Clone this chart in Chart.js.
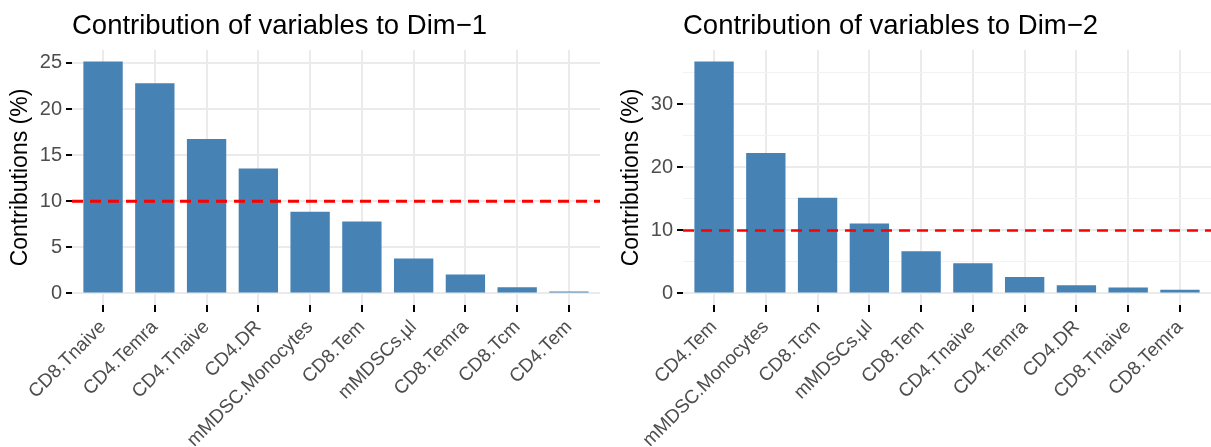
<!DOCTYPE html>
<html>
<head>
<meta charset="utf-8">
<script src="https://cdn.jsdelivr.net/npm/chart.js@4.4.0/dist/chart.umd.min.js"></script>
<style>
  html, body { margin: 0; padding: 0; background: #fff; }
  .panel { position: absolute; top: 0; height: 447px; }
</style>
</head>
<body>
<div class="panel" style="left:0;width:600px"><canvas id="dim1" width="600" height="447"></canvas></div>
<div class="panel" style="left:600px;width:611px"><canvas id="dim2" width="611" height="447"></canvas></div>
<script>
// values
var dim1Labels = ["CD8.Tnaive", "CD4.Temra", "CD4.Tnaive", "CD4.DR", "mMDSC.Monocytes",
                  "CD8.Tem", "mMDSCs.\u00b5l", "CD8.Temra", "CD8.Tcm", "CD4.Tem"];
var dim1Values = [25.15, 22.8, 16.75, 13.55, 8.85, 7.8, 3.8, 2.05, 0.68, 0.22];
var dim1Ticks = [0, 5, 10, 15, 20, 25];

var dim2Labels = ["CD4.Tem", "mMDSC.Monocytes", "CD8.Tcm", "mMDSCs.\u00b5l", "CD8.Tem",
                  "CD4.Tnaive", "CD4.Temra", "CD4.DR", "CD8.Tnaive", "CD8.Temra"];
var dim2Values = [36.8, 22.3, 15.2, 11.1, 6.7, 4.8, 2.6, 1.3, 0.95, 0.57];
var dim2Ticks = [0, 10, 20, 30];

var expected = 10; // 100 / number of variables

Chart.defaults.font.family = '"Liberation Sans", Arial, sans-serif';
Chart.defaults.color = '#4D4D4D';

var panelTitle = {
    id: 'panelTitle',
    afterDraw: function(chart, args, opts) {
        var c = chart.ctx;
        c.save();
        c.font = '27.5px "Liberation Sans", Arial, sans-serif';
        c.fillStyle = '#000';
        c.textBaseline = 'alphabetic';
        c.fillText(opts.text, chart.chartArea.left, 34);
        c.restore();
    }
};

function makeChart(id, title, labels, values, ticks, minorStep, axisW, titlePad, dashW) {
    var n = labels.length;
    var top = Math.max.apply(null, values);
    var pts = values.map(function(v, i) { return {x: i + 1, y: v}; });
    var isMajor = function(v) { return ticks.indexOf(v) >= 0; };

    return new Chart(document.getElementById(id), {
        type: 'bar',
        data: {
            datasets: [{
                type: 'line',
                data: [{x: 0.4, y: expected}, {x: n + 0.6, y: expected}],
                borderColor: '#FF0000',
                borderWidth: dashW,
                borderDash: [11, 7],
                pointRadius: 0,
                order: 0
            }, {
                data: pts,
                backgroundColor: '#4682B4',
                categoryPercentage: 1,
                barPercentage: 0.76,
                order: 1
            }]
        },
        options: {
            responsive: false,
            animation: false,
            layout: { padding: { top: 50, left: 0, right: 0, bottom: 0 } },
            plugins: {
                legend: { display: false },
                tooltip: { enabled: false },
                panelTitle: { text: title }
            },
            scales: {
                x: {
                    type: 'linear',
                    min: 0.4,
                    max: n + 0.6,
                    offset: false,
                    border: { display: false },
                    grid: { offset: false, color: '#EBEBEB', lineWidth: 2,
                            tickColor: '#000', tickLength: 7, tickWidth: 2 },
                    ticks: {
                        stepSize: 1,
                        includeBounds: false,
                        autoSkip: false,
                        minRotation: 45,
                        maxRotation: 45,
                        padding: 4,
                        font: { size: 19 },
                        callback: function(v) { return labels[v - 1] || ''; }
                    },
                    afterFit: function(s) { s.height = 142; }
                },
                y: {
                    min: -0.05 * top,
                    max: top * 1.05,
                    border: { display: false },
                    grid: {
                        color: function(c) { return c.tick && isMajor(c.tick.value) ? '#EBEBEB' : '#F2F2F2'; },
                        lineWidth: function(c) { return c.tick && isMajor(c.tick.value) ? 2 : 1; },
                        tickColor: function(c) { return c.tick && isMajor(c.tick.value) ? '#000' : 'rgba(0,0,0,0)'; },
                        tickLength: 6,
                        tickWidth: 2
                    },
                    ticks: {
                        stepSize: minorStep,
                        includeBounds: false,
                        padding: 4,
                        font: { size: 20 },
                        callback: function(v) { return isMajor(v) ? String(v) : ''; }
                    },
                    title: {
                        display: true,
                        text: 'Contributions (%)',
                        color: '#000',
                        font: { size: 23 },
                        padding: { top: titlePad, bottom: 0 }
                    },
                    afterFit: function(s) { s.width = axisW; }
                }
            }
        },
        plugins: [panelTitle]
    });
}

makeChart('dim1', 'Contribution of variables to Dim\u22121', dim1Labels, dim1Values, dim1Ticks, 2.5, 72, 7, 3);
makeChart('dim2', 'Contribution of variables to Dim\u22122', dim2Labels, dim2Values, dim2Ticks, 5, 83, 18, 2.5);
</script>
</body>
</html>
